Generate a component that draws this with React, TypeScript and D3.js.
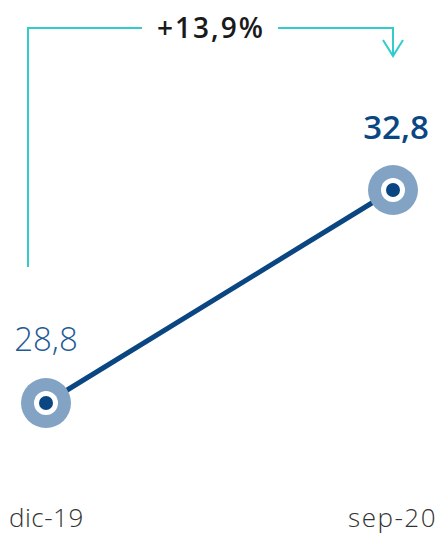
import React from 'react';
import * as d3 from 'd3';

const categories = ['dic-19', 'sep-20'];
const values = [28.8, 32.8];
const changeLabel = '+13,9%';

const fmt = (v: number) => v.toFixed(1).replace('.', ',');

const W = 440;
const H = 536;

const App: React.FC = () => {
  const x = d3.scalePoint<string>().domain(categories).range([46, 393]);
  const y = d3.scaleLinear().domain([28.8, 32.8]).range([403, 190]);

  const line = d3.line<number>()
    .x((_, i) => x(categories[i]) as number)
    .y(d => y(d));

  const x0 = x(categories[0]) as number;
  const x1 = x(categories[1]) as number;
  const topY = 28;

  return (
    <svg width={W} height={H} style={{ position: 'absolute', left: 0, top: 0 }}
      fontFamily="'Open Sans', sans-serif">
      {/* change bracket */}
      <g stroke="#33CCCC" strokeWidth={2} fill="none">
        <path d={`M${x0 - 18},267 V${topY} H142`} />
        <path d={`M278,${topY} H${x1} V56`} />
        <path d={`M${x1 - 10},40 L${x1},56 L${x1 + 10},40`} />
      </g>
      <text x={211} y={38} textAnchor="middle" fontSize={28} fontWeight={600} fill="#1a1a1a"
        letterSpacing={2}>
        {changeLabel}
      </text>

      <path d={line(values) || ''} stroke="#0A4682" strokeWidth={5} fill="none" />

      {values.map((v, i) => {
        const cx = x(categories[i]) as number;
        const cy = y(v);
        return (
          <g key={i}>
            <circle cx={cx} cy={cy} r={25} fill="#82A3C3" />
            <circle cx={cx} cy={cy} r={12} fill="#ffffff" />
            <circle cx={cx} cy={cy} r={7} fill="#0A4682" />
          </g>
        );
      })}

      <text x={46} y={351} textAnchor="middle" fontSize={33} fontWeight={300} fill="#1F5A96">
        {fmt(values[0])}
      </text>
      <text x={396} y={139} textAnchor="middle" fontSize={33} fontWeight={600} fill="#0A4682">
        {fmt(values[1])}
      </text>

      <text x={9} y={527} textAnchor="start" fontSize={26} fontWeight={300} fill="#333333"
        letterSpacing={0.5}>
        {categories[0]}
      </text>
      <text x={437} y={527} textAnchor="end" fontSize={26} fontWeight={300} fill="#333333"
        letterSpacing={1.5}>
        {categories[1]}
      </text>
    </svg>
  );
};

export default App;
